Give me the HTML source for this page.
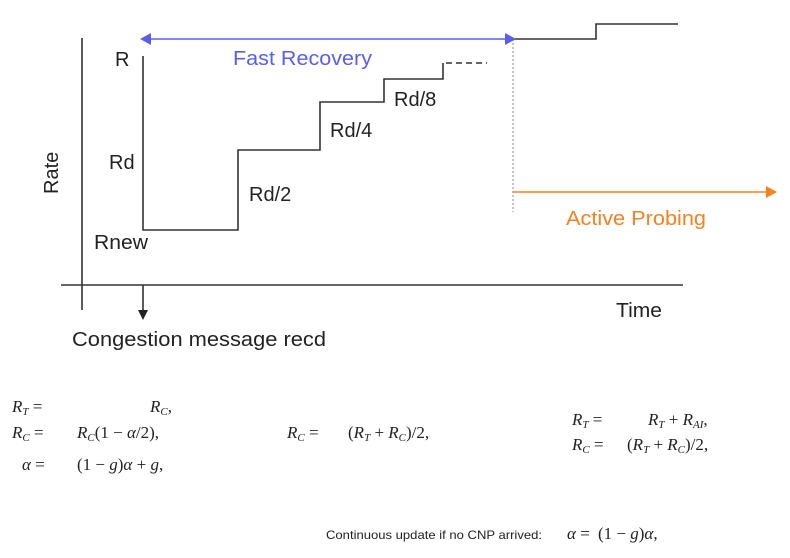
<!DOCTYPE html>
<html><head><style>
body{margin:0;background:#fff;width:790px;height:553px;overflow:hidden}
svg text{font-family:"Liberation Sans",sans-serif}
.m{font-family:"Liberation Serif",serif;font-size:17px;font-style:italic}
.n{font-style:normal}
</style></head><body>
<svg width="790" height="553" xmlns="http://www.w3.org/2000/svg">
<g stroke="#333" stroke-width="1.6" fill="none">
<line x1="82" y1="38" x2="82" y2="310"/>
<line x1="61" y1="285" x2="683" y2="285"/>
<line x1="143" y1="285" x2="143" y2="312"/>
<polyline points="143,56 143,230 238,230 238,150 320,150 320,102 384,102 384,79 443,79 443,63"/>
<line x1="446" y1="63" x2="487" y2="63" stroke-dasharray="6,4"/>
<polyline points="513,39 596,39 596,24 678,24"/>
<line x1="513" y1="39" x2="513" y2="212" stroke="#888" stroke-width="1" stroke-dasharray="2,2"/>
</g>
<polygon points="138,310 148,310 143,320" fill="#222"/>
<line x1="150" y1="39" x2="506" y2="39" stroke="#5a5ef0" stroke-width="1.6"/>
<polygon points="140,39 151,33 151,45" fill="#5a5ef0"/>
<polygon points="516,39 505,33 505,45" fill="#5a5ef0"/>
<line x1="513" y1="192" x2="768" y2="192" stroke="#f7811f" stroke-width="1.6"/>
<polygon points="777,192 766,186 766,198" fill="#f7811f"/>
<g font-size="20" fill="#222" lengthAdjust="spacingAndGlyphs">
<text x="115" y="66">R</text>
<text x="109" y="169">Rd</text>
<text x="94" y="249" textLength="54" lengthAdjust="spacingAndGlyphs">Rnew</text>
<text x="249" y="201">Rd/2</text>
<text x="330" y="137">Rd/4</text>
<text x="394" y="106">Rd/8</text>
<text x="616" y="317" textLength="46" lengthAdjust="spacingAndGlyphs">Time</text>
<text x="72" y="346" textLength="254" lengthAdjust="spacingAndGlyphs">Congestion message recd</text>
<text transform="translate(58,194) rotate(-90)">Rate</text>
<text x="233" y="65" fill="#5a5ef0" textLength="139" lengthAdjust="spacingAndGlyphs">Fast Recovery</text>
<text x="566" y="225" fill="#f7811f" textLength="140" lengthAdjust="spacingAndGlyphs">Active Probing</text>
</g>
<g fill="#222">
<text class="m" x="12" y="412">R<tspan font-size="11" dy="3">T</tspan><tspan dy="-3" class="n"> =</tspan></text>
<text class="m" x="150" y="412">R<tspan font-size="11" dy="3">C</tspan><tspan dy="-3" class="n">,</tspan></text>
<text class="m" x="12" y="438">R<tspan font-size="11" dy="3">C</tspan><tspan dy="-3" class="n"> =</tspan></text>
<text class="m" x="77" y="438">R<tspan font-size="11" dy="3">C</tspan><tspan dy="-3" class="n">(1 − </tspan>α<tspan class="n">/2),</tspan></text>
<text class="m" x="22" y="470">α <tspan class="n">=</tspan></text>
<text class="m" x="77" y="470"><tspan class="n">(1 − </tspan>g<tspan class="n">)</tspan>α <tspan class="n">+</tspan> g<tspan class="n">,</tspan></text>
<text class="m" x="287" y="438">R<tspan font-size="11" dy="3">C</tspan><tspan dy="-3" class="n"> =</tspan></text>
<text class="m" x="348" y="438"><tspan class="n">(</tspan>R<tspan font-size="11" dy="3">T</tspan><tspan dy="-3" class="n"> + </tspan>R<tspan font-size="11" dy="3">C</tspan><tspan dy="-3" class="n">)/2,</tspan></text>
<text class="m" x="572" y="425">R<tspan font-size="11" dy="3">T</tspan><tspan dy="-3" class="n"> =</tspan></text>
<text class="m" x="648" y="425">R<tspan font-size="11" dy="3">T</tspan><tspan dy="-3" class="n"> + </tspan>R<tspan font-size="11" dy="3">AI</tspan><tspan dy="-3" class="n">,</tspan></text>
<text class="m" x="572" y="450">R<tspan font-size="11" dy="3">C</tspan><tspan dy="-3" class="n"> =</tspan></text>
<text class="m" x="627" y="450"><tspan class="n">(</tspan>R<tspan font-size="11" dy="3">T</tspan><tspan dy="-3" class="n"> + </tspan>R<tspan font-size="11" dy="3">C</tspan><tspan dy="-3" class="n">)/2,</tspan></text>
<text x="326" y="539" font-size="12" textLength="216" lengthAdjust="spacingAndGlyphs">Continuous update if no CNP arrived:</text>
<text class="m" x="567" y="539">α <tspan class="n">=</tspan></text>
<text class="m" x="598" y="539"><tspan class="n">(1 − </tspan>g<tspan class="n">)</tspan>α<tspan class="n">,</tspan></text>
</g>
</svg>
</body></html>
